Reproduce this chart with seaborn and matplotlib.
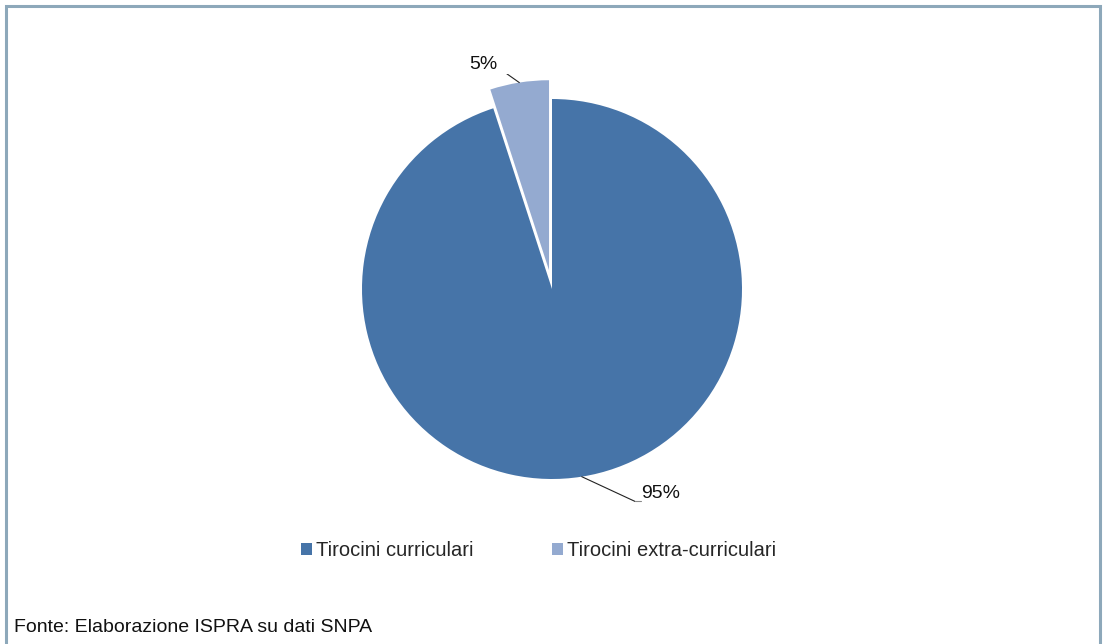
import numpy as np
import matplotlib
matplotlib.use("Agg")
import matplotlib.pyplot as plt
from matplotlib.patches import Rectangle, Patch
import seaborn as sns

# Data
categories = ["Tirocini curriculari", "Tirocini extra-curriculari"]
shares = [95, 5]
pct_labels = ["95%", "5%"]
source_note = "Fonte: Elaborazione ISPRA su dati SNPA"

sns.set_theme(style="white")
plt.rcParams["font.family"] = ["Liberation Sans", "DejaVu Sans"]
colors = ["#4674A8", "#94AAD0"]

W, H, DPI = 1105, 644, 100
fig = plt.figure(figsize=(W / DPI, H / DPI), dpi=DPI)
fig.patch.set_facecolor("white")

# Pie axes: centre (552, 289) px, radius 190 px
cx, cy, r_px, half = 552, 289, 190, 215
ax = fig.add_axes([(cx - half) / W, (H - cy - half) / H, 2 * half / W, 2 * half / H])
wedges, _ = ax.pie(shares, colors=colors, startangle=90, counterclock=False,
                   explode=[0, 0.1], radius=1,
                   wedgeprops=dict(linewidth=0))
lim = half / r_px
ax.set_xlim(-lim, lim)
ax.set_ylim(-lim, lim)
ax.set_aspect("equal")
ax.axis("off")

# Percentage labels with leader lines anchored at each wedge's mid-angle
def mid_point(w, rfac=1.0):
    ang = np.deg2rad((w.theta1 + w.theta2) / 2)
    cxw, cyw = w.center
    return cxw + w.r * rfac * np.cos(ang), cyw + w.r * rfac * np.sin(ang)

# 95%
ax0, ay0 = mid_point(wedges[0])
elbow0 = (0.437, -1.118)
ax.plot([ax0, elbow0[0]], [ay0, elbow0[1]], color="#222222", lw=0.8)
ax.plot([elbow0[0], elbow0[0] + 0.03], [elbow0[1], elbow0[1]], color="#888888", lw=0.8)
ax.text(elbow0[0] + 0.03, -1.075, pct_labels[0], ha="left", va="center",
        fontsize=14, color="#111111")

# 5%
ax1, ay1 = mid_point(wedges[1])
elbow1 = (-0.258, 1.147)
ax.plot([ax1, elbow1[0]], [ay1, elbow1[1]], color="#222222", lw=0.8)
ax.plot([elbow1[0], elbow1[0] - 0.03], [elbow1[1], elbow1[1]], color="#888888", lw=0.8)
ax.text(elbow1[0] - 0.03, 1.184, pct_labels[1], ha="right", va="center",
        fontsize=14, color="#111111")

# Legend
handles = [Patch(facecolor=c, edgecolor="none") for c in colors]
fig.legend(handles, categories, loc="center", ncol=2,
           bbox_to_anchor=(538.5 / W, 1 - 551 / H),
           frameon=False, fontsize=14.5, handlelength=0.55, handleheight=0.55,
           handletextpad=0.2, columnspacing=3.9)

# Source note
fig.text(14 / W, 1 - 627 / H, source_note, ha="left", va="center",
         fontsize=14, color="#111111")

# Outer frame
frame_col = "#8DA8BA"
fig.add_artist(Rectangle((6 / W, -0.05), (1099.5 - 6) / W, 1.05 - 6 / H,
                         transform=fig.transFigure, fill=False,
                         edgecolor=frame_col, linewidth=2.2, clip_on=False))

fig.savefig("out.png", dpi=DPI, facecolor="white")
